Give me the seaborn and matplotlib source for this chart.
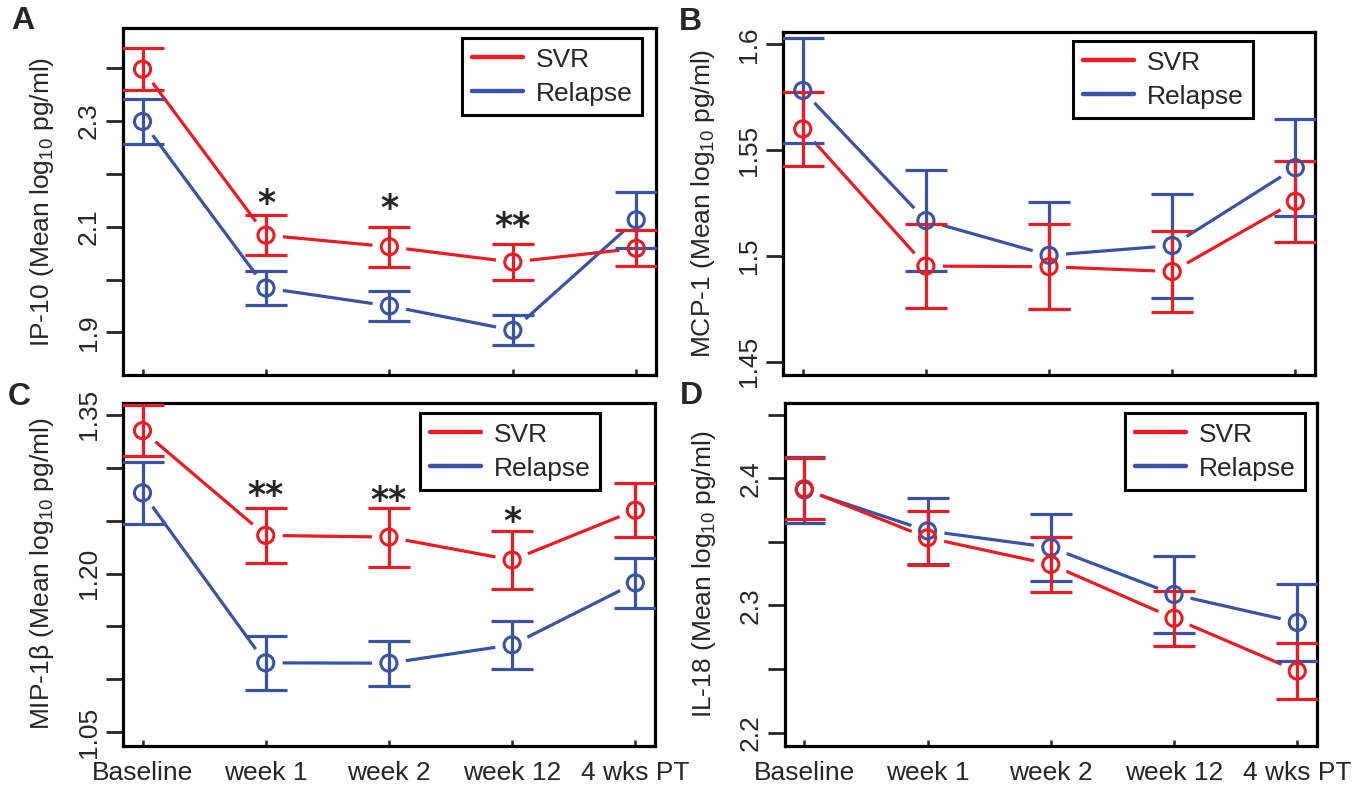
import numpy as np
import pandas as pd
import matplotlib
matplotlib.use('Agg')
import matplotlib.pyplot as plt
from matplotlib.lines import Line2D
import seaborn as sns

# time points (x axis)
timepoints = ['Baseline', 'week 1', 'week 2', 'week 12', '4 wks PT']
pos = [1, 2, 3, 4, 5]

# A - IP-10 : mean and half error bar
ip10_svr = [2.398, 2.084, 2.062, 2.033, 2.059]
ip10_svr_err = [0.040, 0.038, 0.038, 0.034, 0.034]
ip10_rel = [2.299, 1.984, 1.950, 1.904, 2.113]
ip10_rel_err = [0.043, 0.033, 0.029, 0.028, 0.053]
ip10_stars = ['', '*', '*', '**', '']
ip10_star_y = [np.nan, 2.160, 2.151, 2.117, np.nan]

# B - MCP-1
mcp1_svr = [1.560, 1.4952, 1.4949, 1.4926, 1.5258]
mcp1_svr_err = [0.0175, 0.0198, 0.020, 0.019, 0.019]
mcp1_rel = [1.5782, 1.5167, 1.5003, 1.5049, 1.5417]
mcp1_rel_err = [0.0246, 0.0238, 0.0252, 0.0246, 0.0229]

# C - MIP-1beta
mip_svr = [1.3351, 1.2361, 1.2345, 1.2128, 1.2599]
mip_svr_err = [0.0244, 0.0263, 0.0279, 0.0276, 0.0255]
mip_rel = [1.2763, 1.1156, 1.1153, 1.1326, 1.1912]
mip_rel_err = [0.0296, 0.0255, 0.0214, 0.023, 0.0239]
mip_stars = ['', '**', '**', '*', '']
mip_star_y = [np.nan, 1.2822, 1.2775, 1.2571, np.nan]

# D - IL-18
il18_svr = [2.3917, 2.3532, 2.3322, 2.2899, 2.2484]
il18_svr_err = [0.024, 0.0214, 0.0219, 0.0218, 0.0219]
il18_rel = [2.3908, 2.3586, 2.3456, 2.3086, 2.2866]
il18_rel_err = [0.026, 0.026, 0.0263, 0.0305, 0.0303]

RED = '#EC1C24'
BLUE = '#3A53A4'

sns.set_theme(style='ticks')
plt.rcParams['font.family'] = ['Liberation Sans', 'DejaVu Sans']
plt.rcParams['mathtext.fontset'] = 'custom'
plt.rcParams['mathtext.rm'] = 'Liberation Sans'
plt.rcParams['mathtext.it'] = 'Liberation Sans:italic'
plt.rcParams['font.size'] = 19

FS = 19
GAP = 17  # px gap between line ends and circles (R type="b")


def gapped_line(ax, x, y, color):
    # connect points but stop short of each circle
    pts = ax.transData.transform(np.column_stack([x, y]))
    inv = ax.transData.inverted()
    for p, q in zip(pts[:-1], pts[1:]):
        d = q - p
        u = d / np.hypot(*d)
        seg = inv.transform(np.array([p + u * GAP, q - u * GAP]))
        ax.plot(seg[:, 0], seg[:, 1], color=color, lw=2.3, solid_capstyle='butt', zorder=2)


def draw_panel(rect, letter, letter_xy, svr, svr_err, rel, rel_err, ylim, yticks, ylabels,
               ylabel, legend_xy, show_x, stars=None, star_y=None):
    ax = fig.add_axes(rect)
    ax.set_xlim(0.84, 5.16)
    ax.set_ylim(*ylim)

    # lines first, relapse under svr
    for vals, col in [(rel, BLUE), (svr, RED)]:
        gapped_line(ax, pos, vals, col)
    for vals, err, col in [(rel, rel_err, BLUE), (svr, svr_err, RED)]:
        ax.errorbar(pos, vals, yerr=err, fmt='none', ecolor=col, elinewidth=2.3,
                    capsize=15, capthick=2.3, zorder=3)

    df = pd.DataFrame({'pos': pos + pos, 'mean': rel + svr,
                       'group': ['Relapse'] * 5 + ['SVR'] * 5})
    sns.scatterplot(data=df, x='pos', y='mean', hue='group',
                    palette={'SVR': RED, 'Relapse': BLUE}, s=135, marker='o',
                    linewidth=2.2, legend=False, ax=ax, zorder=5)
    pts = ax.collections[-1]
    pts.set_edgecolors(pts.get_facecolors())
    pts.set_facecolors('none')

    if stars is not None:
        for x, s, y in zip(pos, stars, star_y):
            if s:
                ax.annotate(s, xy=(x, y), xytext=(0, -0.55 * 25), textcoords='offset points',
                            ha='center', va='baseline', fontsize=25,
                            family='DejaVu Sans', fontweight='bold')

    ax.set_yticks(yticks)
    ax.set_yticklabels(ylabels, rotation=90, va='center')
    ax.set_xticks(pos)
    if show_x:
        ax.set_xticklabels(timepoints)
    else:
        ax.set_xticklabels([])
    ax.tick_params(axis='y', direction='out', length=12, width=2, pad=4, labelsize=FS)
    ax.tick_params(axis='x', direction='in', length=4.5, width=1.8, pad=11, labelsize=FS)
    for sp in ax.spines.values():
        sp.set_visible(True)
        sp.set_linewidth(2.3)
        sp.set_color('black')

    ax.set_xlabel('')
    ax.set_ylabel(ylabel, fontsize=FS)
    ax.yaxis.set_label_coords(-0.125, 0.5)

    handles = [Line2D([], [], color=RED, lw=3.2), Line2D([], [], color=BLUE, lw=3.2)]
    leg = ax.legend(handles, ['SVR', 'Relapse'], loc='upper left', bbox_to_anchor=legend_xy,
                    bbox_transform=fig.transFigure, fancybox=False, edgecolor='black',
                    framealpha=1, borderaxespad=0, handlelength=1.95, handletextpad=0.5,
                    labelspacing=0.38, borderpad=0.36, fontsize=FS)
    leg.get_frame().set_linewidth(2.2)

    fig.text(letter_xy[0], letter_xy[1], letter, fontsize=23, fontweight='bold',
             ha='center', va='center')
    return ax


fig = plt.figure(figsize=(13.69, 7.92), dpi=100)

draw_panel([0.0897, 0.5265, 0.3895, 0.4378], 'A', (0.0168, 0.9735),
           ip10_svr, ip10_svr_err, ip10_rel, ip10_rel_err,
           (1.8194, 2.4754), [1.9, 2.0, 2.1, 2.2, 2.3, 2.4], ['1.9', '', '2.1', '', '2.3', ''],
           'IP-10 (Mean log$_{10}$ pg/ml)', (0.3375, 0.952), False,
           ip10_stars, ip10_star_y)

draw_panel([0.5720, 0.5265, 0.3886, 0.4335], 'B', (0.5040, 0.9722),
           mcp1_svr, mcp1_svr_err, mcp1_rel, mcp1_rel_err,
           (1.4437, 1.606), [1.45, 1.5, 1.55, 1.6], ['1.45', '1.5', '1.55', '1.6'],
           'MCP-1 (Mean log$_{10}$ pg/ml)', (0.7838, 0.9482), False)

draw_panel([0.0897, 0.0585, 0.3888, 0.4331], 'C', (0.0139, 0.4987),
           mip_svr, mip_svr_err, mip_rel, mip_rel_err,
           (1.0373, 1.3616), [1.05, 1.10, 1.15, 1.20, 1.25, 1.30, 1.35],
           ['1.05', '', '', '1.20', '', '', '1.35'],
           'MIP-1β (Mean log$_{10}$ pg/ml)', (0.3068, 0.4785), True,
           mip_stars, mip_star_y)

draw_panel([0.5731, 0.0581, 0.3889, 0.4335], 'D', (0.5048, 0.5000),
           il18_svr, il18_svr_err, il18_rel, il18_rel_err,
           (2.1895, 2.4594), [2.2, 2.25, 2.3, 2.35, 2.4, 2.45], ['2.2', '', '2.3', '', '2.4', ''],
           'IL-18 (Mean log$_{10}$ pg/ml)', (0.8218, 0.4785), True)

plt.savefig('out.png', dpi=100)
